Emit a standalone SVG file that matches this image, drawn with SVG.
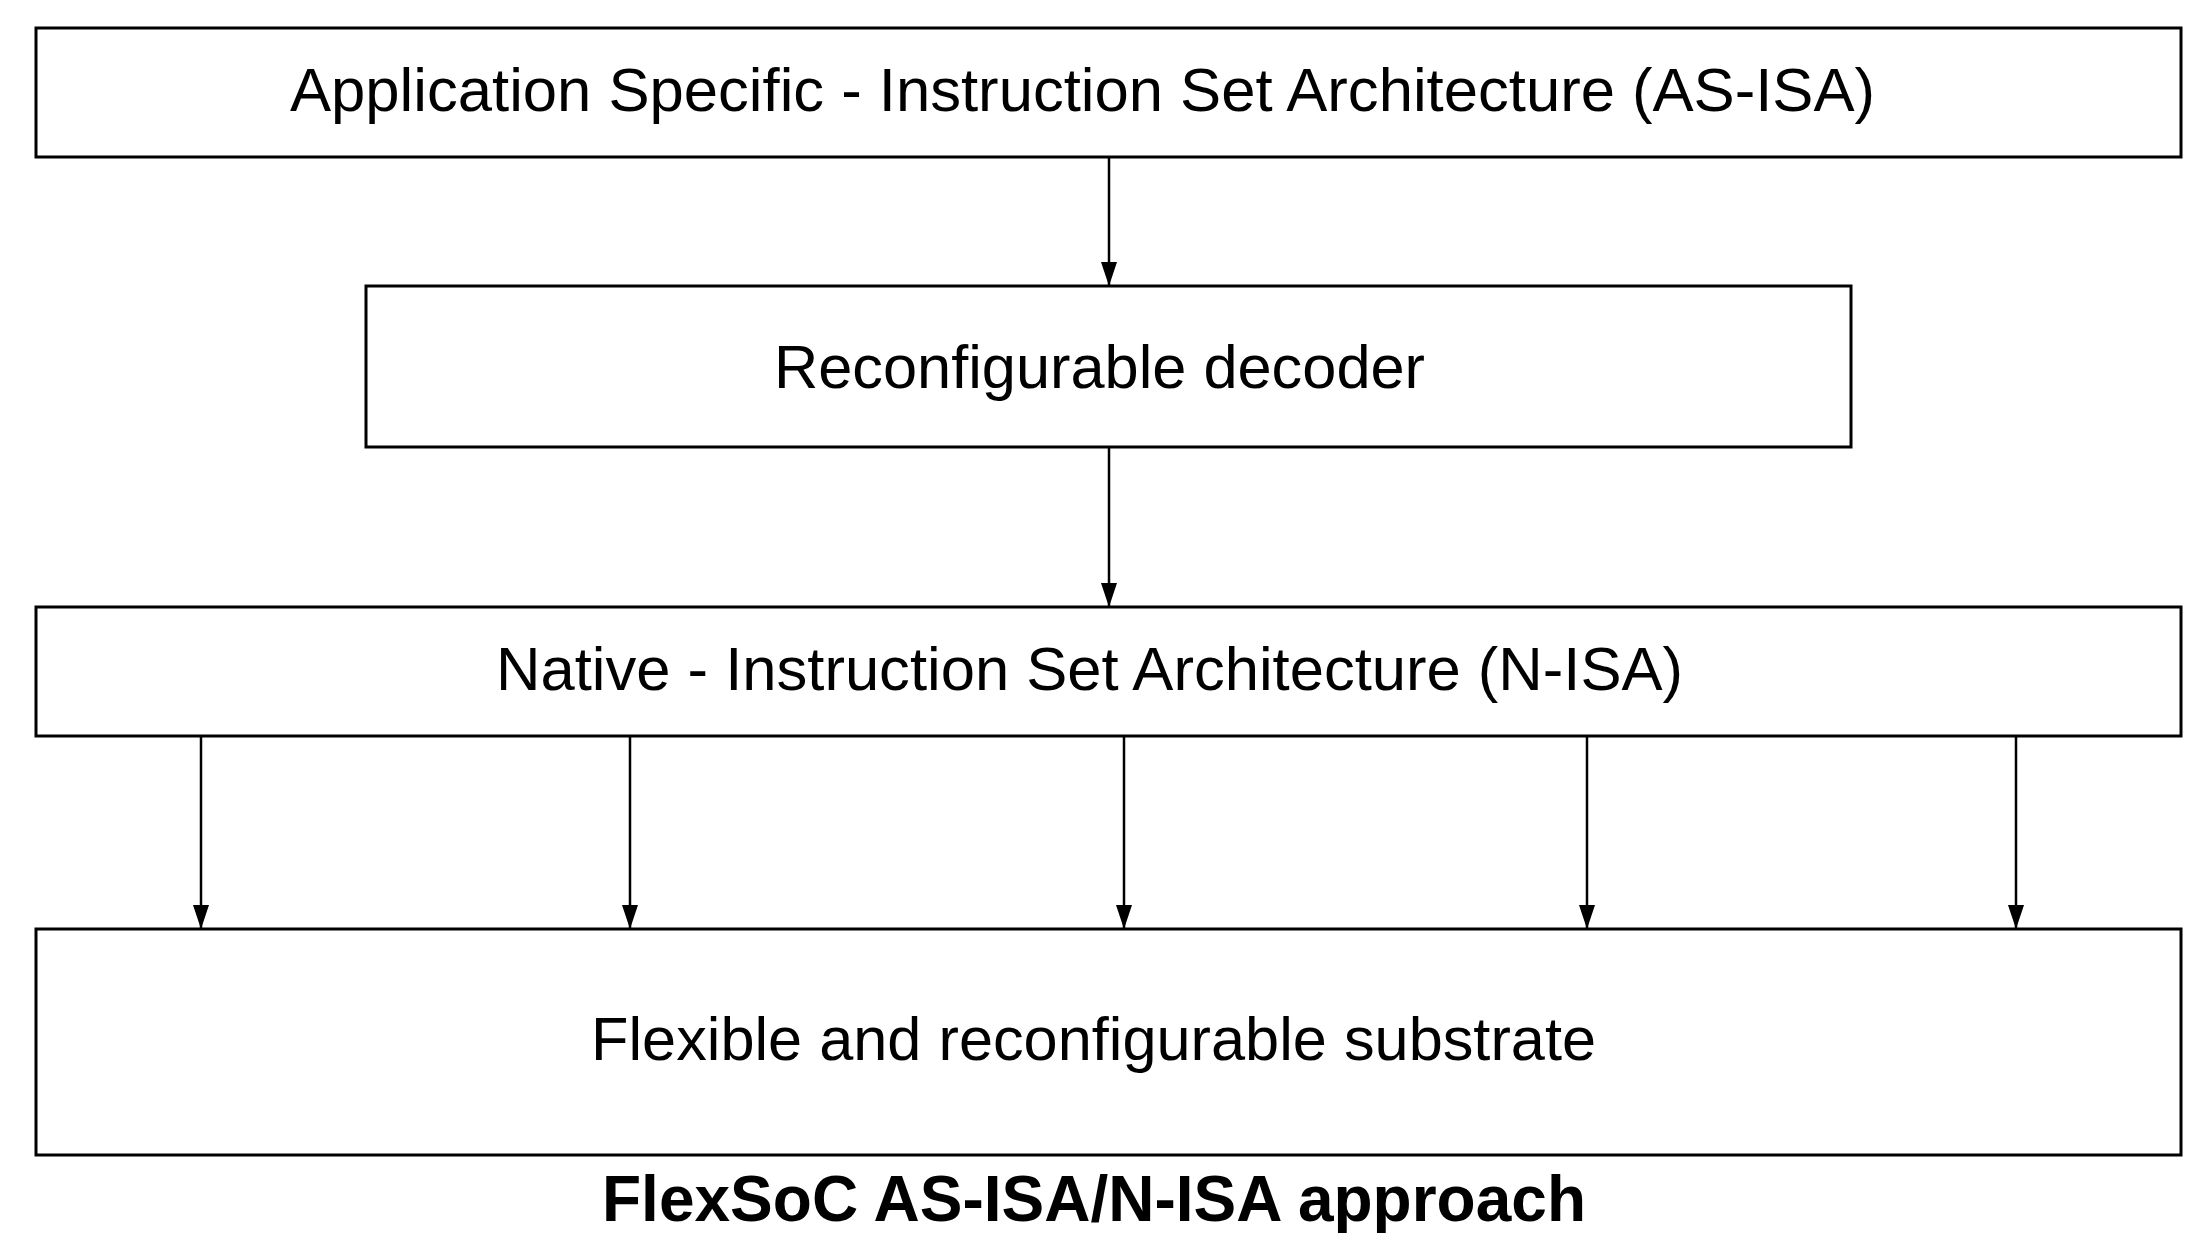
<svg xmlns="http://www.w3.org/2000/svg" width="2186" height="1233" viewBox="0 0 2186 1233">
  <style>
    .box { fill: #ffffff; stroke: #000000; stroke-width: 3; }
    .lbl { font-family: "Liberation Sans", Arial, sans-serif; font-size: 61.5px; fill: #000000; }
    .title { font-family: "Liberation Sans", Arial, sans-serif; font-size: 65px; font-weight: bold; fill: #000000; }
    .wire { stroke: #000000; stroke-width: 2.5; fill: none; marker-end: url(#head); }
  </style>
  <defs>
    <!-- solid triangular arrowhead, tip on the line end -->
    <marker id="head" markerUnits="userSpaceOnUse" markerWidth="24" markerHeight="16" refX="24" refY="8" orient="auto" viewBox="0 0 24 16">
      <path d="M0,0 L24,8 L0,16 Z" fill="#000000"/>
    </marker>
  </defs>
  <rect width="2186" height="1233" fill="#ffffff"/>

  <g id="as-isa">
    <rect class="box" x="36" y="28" width="2145" height="129"/>
    <text class="lbl" x="290" y="111" textLength="1585" lengthAdjust="spacingAndGlyphs">Application Specific - Instruction Set Architecture (AS-ISA)</text>
  </g>

  <g id="decoder">
    <rect class="box" x="366" y="286" width="1485" height="161"/>
    <text class="lbl" x="774" y="388" textLength="651" lengthAdjust="spacingAndGlyphs">Reconfigurable decoder</text>
  </g>

  <g id="n-isa">
    <rect class="box" x="36" y="607" width="2145" height="129"/>
    <text class="lbl" x="496" y="690" textLength="1187" lengthAdjust="spacingAndGlyphs">Native - Instruction Set Architecture (N-ISA)</text>
  </g>

  <g id="substrate">
    <rect class="box" x="36" y="929" width="2145" height="226"/>
    <text class="lbl" x="591" y="1060" textLength="1005" lengthAdjust="spacingAndGlyphs">Flexible and reconfigurable substrate</text>
  </g>

  <g id="connectors">
    <line class="wire" x1="1109" y1="157" x2="1109" y2="286"/>
    <line class="wire" x1="1109" y1="447" x2="1109" y2="607"/>
    <line class="wire" x1="201" y1="736" x2="201" y2="929"/>
    <line class="wire" x1="630" y1="736" x2="630" y2="929"/>
    <line class="wire" x1="1124" y1="736" x2="1124" y2="929"/>
    <line class="wire" x1="1587" y1="736" x2="1587" y2="929"/>
    <line class="wire" x1="2016" y1="736" x2="2016" y2="929"/>
  </g>

  <text id="caption" class="title" x="602" y="1221" textLength="984" lengthAdjust="spacingAndGlyphs">FlexSoC AS-ISA/N-ISA approach</text>
</svg>
